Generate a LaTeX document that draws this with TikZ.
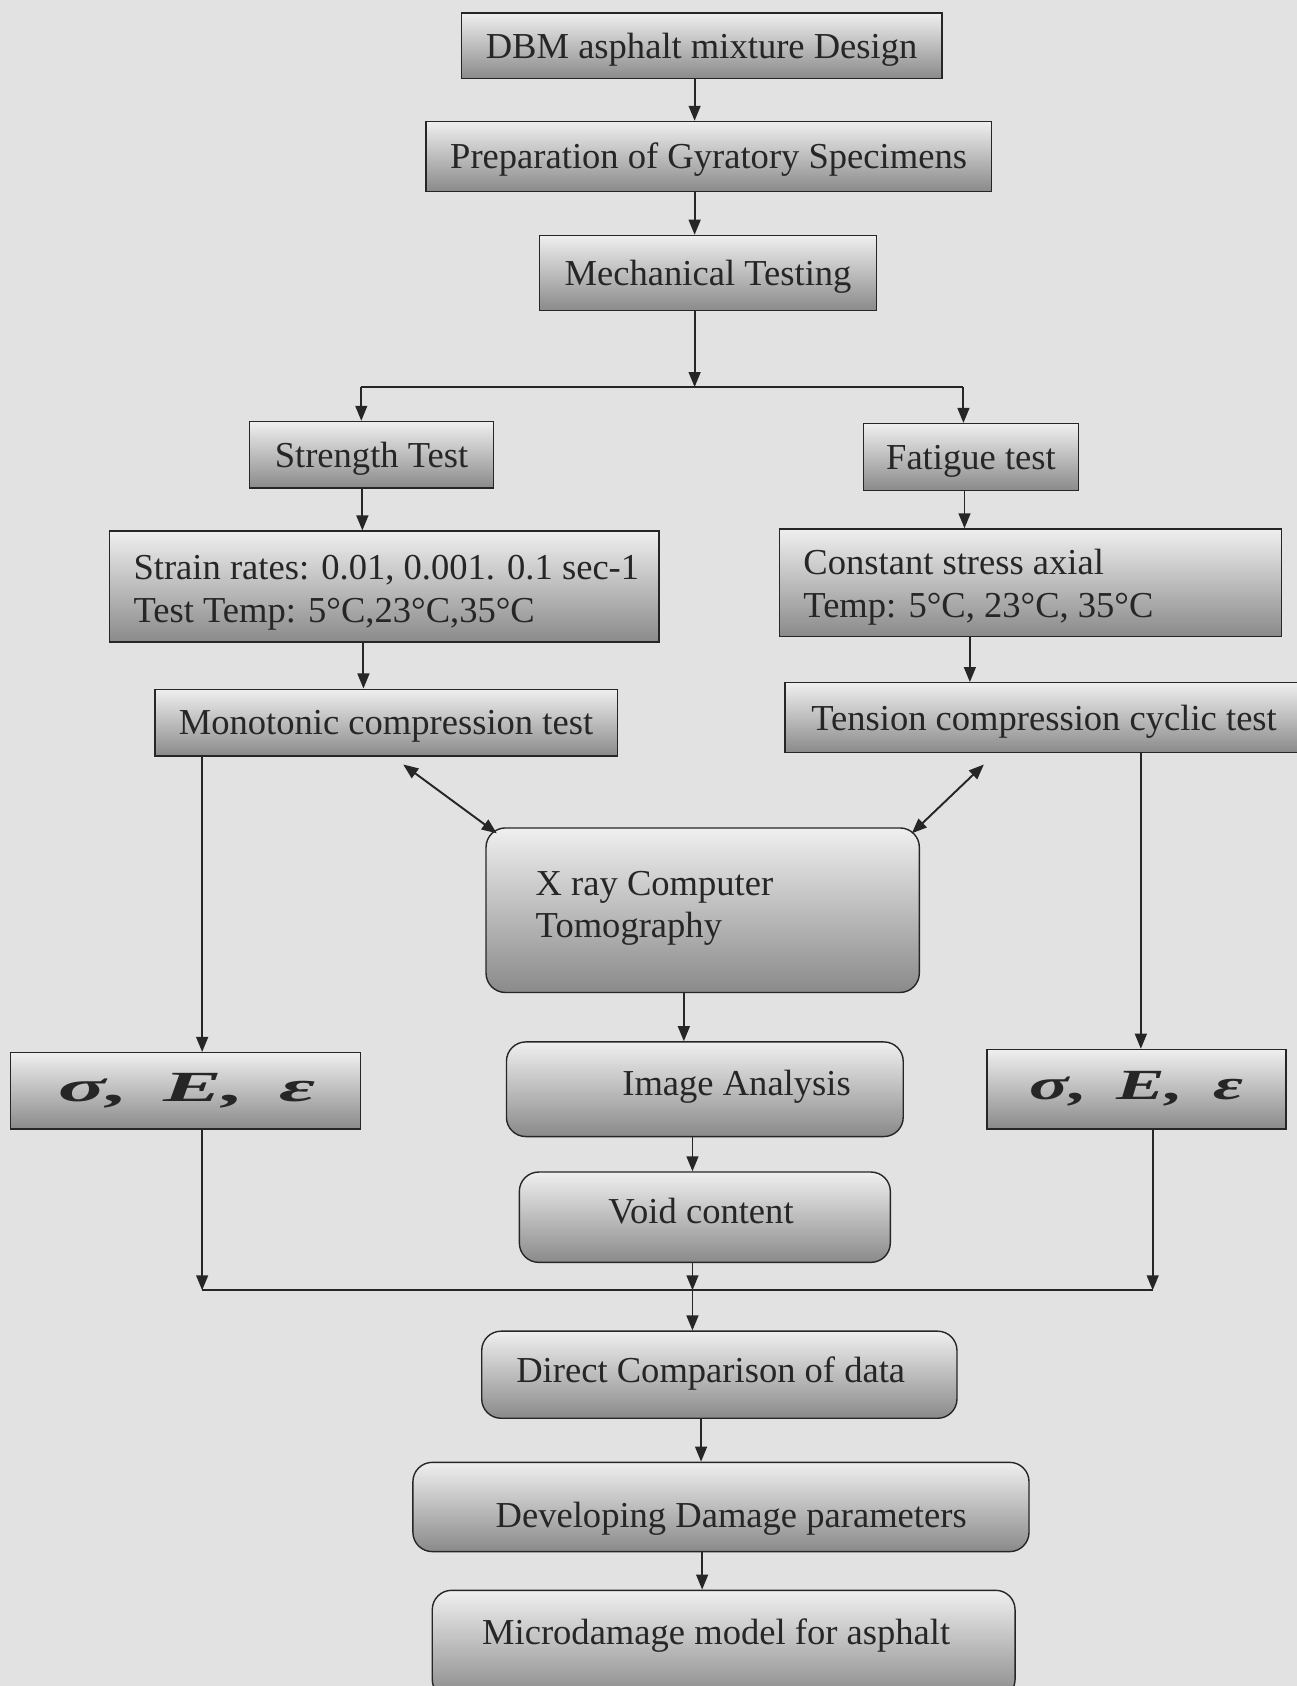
\documentclass[tikz,border=0pt]{standalone}
\usepackage{fontspec}
\setmainfont{Liberation Serif}
\usetikzlibrary{arrows.meta}
\definecolor{bg}{HTML}{E2E2E2}
\definecolor{boxtop}{HTML}{EFEFEF}
\definecolor{boxmid}{HTML}{D2D2D2}
\definecolor{boxbot}{HTML}{8A8A8A}
\definecolor{ink}{HTML}{262626}
\tikzset{
  fbox/.style={draw=ink, line width=1.3pt, top color=boxtop, middle color=boxmid, bottom color=boxbot,
    inner sep=0pt, text=ink, font=\fontsize{34}{40}\selectfont, text height=30pt, text depth=7pt},
  rbox/.style={fbox, rounded corners=18pt},
  lbl/.style={inner sep=0pt, text=ink, font=\fontsize{34}{40}\selectfont, text height=30pt, text depth=7pt},
  arr/.style={draw=ink, line width=1.8pt, -{Triangle[length=14pt,width=11pt]}},
  dbl/.style={draw=ink, line width=1.8pt, {Triangle[length=14pt,width=11pt]}-{Triangle[length=14pt,width=11pt]}},
  ln/.style={draw=ink, line width=1.8pt},
  sig/.style={inner sep=0pt, text=ink, font=\fontsize{40}{44}\selectfont\bfseries\itshape, transform shape}
}
\newcommand{\sigtext}{σ,\hspace{0.4em}E,\hspace{0.4em}ε}
\begin{document}
\begin{tikzpicture}[x=1pt,y=-1pt]
\useasboundingbox (0,0) rectangle (1206,1568);
\fill[bg] (0,0) rectangle (1206,1568);
\begin{scope}
\clip (0,0) rectangle (1206,1568);
% boxes
\node[fbox, minimum width=447pt, minimum height=61pt] (dbm) at (652.5,42.5) {DBM asphalt mixture Design};
\node[fbox, minimum width=526pt, minimum height=65pt] (prep) at (659,145.5) {Preparation of Gyratory Specimens};
\node[fbox, minimum width=313pt, minimum height=70pt] (mech) at (658.5,254) {Mechanical Testing};
\node[fbox, minimum width=227pt, minimum height=62pt] (strength) at (345.5,423) {Strength Test};
\node[fbox, minimum width=200pt, minimum height=62pt] (fatigue) at (903,425) {Fatigue test};
\node[fbox, minimum width=511pt, minimum height=103pt] (strain) at (357.5,545.5) {};
\node[lbl, anchor=west] (strainA) at (124,527) {Strain rates: 0.01, 0.001. 0.1 sec-1};
\node[lbl, anchor=west] (strainB) at (124,567) {Test Temp: 5°C,23°C,35°C};
\node[fbox, minimum width=467pt, minimum height=100pt] (const) at (958.5,542) {};
\node[lbl, anchor=west] (constA) at (747,523) {Constant stress axial};
\node[lbl, anchor=west] (constB) at (747,563) {Temp: 5°C, 23°C, 35°C};
\node[fbox, minimum width=430pt, minimum height=62pt] (mono) at (359,672) {Monotonic compression test};
\node[fbox, minimum width=482pt, minimum height=65pt] (tension) at (971,667.5) {Tension compression cyclic test};
\node[rbox, minimum width=403pt, minimum height=153pt] (xray) at (653.5,846.5) {};
\node[lbl, anchor=west] (xrayA) at (498,821) {X ray Computer};
\node[lbl, anchor=west] (xrayB) at (498,860) {Tomography};
\node[rbox, minimum width=369pt, minimum height=88pt] (img) at (655.5,1013) {};
\node[lbl] (imgT) at (685,1007) {Image Analysis};
\node[rbox, minimum width=345pt, minimum height=84pt] (void) at (655.5,1132) {};
\node[lbl] (voidT) at (652,1126) {Void content};
\node[fbox, minimum width=325pt, minimum height=71pt] (sigL) at (172.5,1014.5) {};
\node[sig, xscale=2.05] (sigLT) at (174,1014) {\sigtext};
\node[fbox, minimum width=278pt, minimum height=74pt] (sigR) at (1057,1013) {};
\node[sig, xscale=1.7] (sigRT) at (1057,1013) {\sigtext};
\node[rbox, minimum width=442pt, minimum height=81pt] (direct) at (669,1278.5) {};
\node[lbl] (directT) at (661,1274) {Direct Comparison of data};
\node[rbox, minimum width=573pt, minimum height=83pt] (dev) at (670.5,1401.5) {};
\node[lbl] (devT) at (680,1409) {Developing Damage parameters};
\node[rbox, minimum width=542pt, minimum height=101pt] (micro) at (673,1529.5) {};
\node[lbl] (microT) at (666,1518) {Microdamage model for asphalt};
% columns / junctions
\coordinate (c1) at (646,0);
\coordinate (j1) at (646,360);
\coordinate (jL) at (336,360);
\coordinate (jR) at (896,360);
\coordinate (c2) at (337,0);
\coordinate (c3) at (897,0);
\coordinate (c4) at (338,0);
\coordinate (c5) at (902,0);
\coordinate (c6) at (188,0);
\coordinate (c7) at (1061,0);
\coordinate (c8) at (636,0);
\coordinate (c9) at (644,0);
\coordinate (bL) at (188,1200);
\coordinate (bR) at (1072,1200);
\coordinate (bM) at (644,1200);
\coordinate (c10) at (652,0);
\coordinate (c11) at (653,0);
\coordinate (m1) at (375,711);
\coordinate (x1) at (462,775);
\coordinate (m2) at (915,711);
\coordinate (x2) at (848,775);
% connectors
\draw[arr] (dbm.south -| c1) -- (prep.north -| c1);
\draw[arr] (prep.south -| c1) -- (mech.north -| c1);
\draw[arr] (mech.south -| j1) -- (j1);
\draw[ln] (jL) -- (jR);
\draw[arr] (jL) -- (strength.north -| jL);
\draw[arr] (jR) -- (fatigue.north -| jR);
\draw[arr] (strength.south -| c2) -- (strain.north -| c2);
\draw[arr] (fatigue.south -| c3) -- (const.north -| c3);
\draw[arr] (strain.south -| c4) -- (mono.north -| c4);
\draw[arr] (const.south -| c5) -- (tension.north -| c5);
\draw[arr] (mono.south -| c6) -- (sigL.north -| c6);
\draw[arr] (tension.south -| c7) -- (sigR.north -| c7);
\draw[dbl] (m1) -- (x1);
\draw[dbl] (m2) -- (x2);
\draw[arr] (xray.south -| c8) -- (img.north -| c8);
\draw[arr] (img.south -| c9) -- (void.north -| c9);
\draw[arr] (void.south -| bM) -- (bM);
\draw[arr] (sigL.south -| bL) -- (bL);
\draw[arr] (sigR.south -| bR) -- (bR);
\draw[ln] (bL) -- (bR);
\draw[arr] (bM) -- (direct.north -| bM);
\draw[arr] (direct.south -| c10) -- (dev.north -| c10);
\draw[arr] (dev.south -| c11) -- (micro.north -| c11);
\end{scope}
\end{tikzpicture}
\end{document}
